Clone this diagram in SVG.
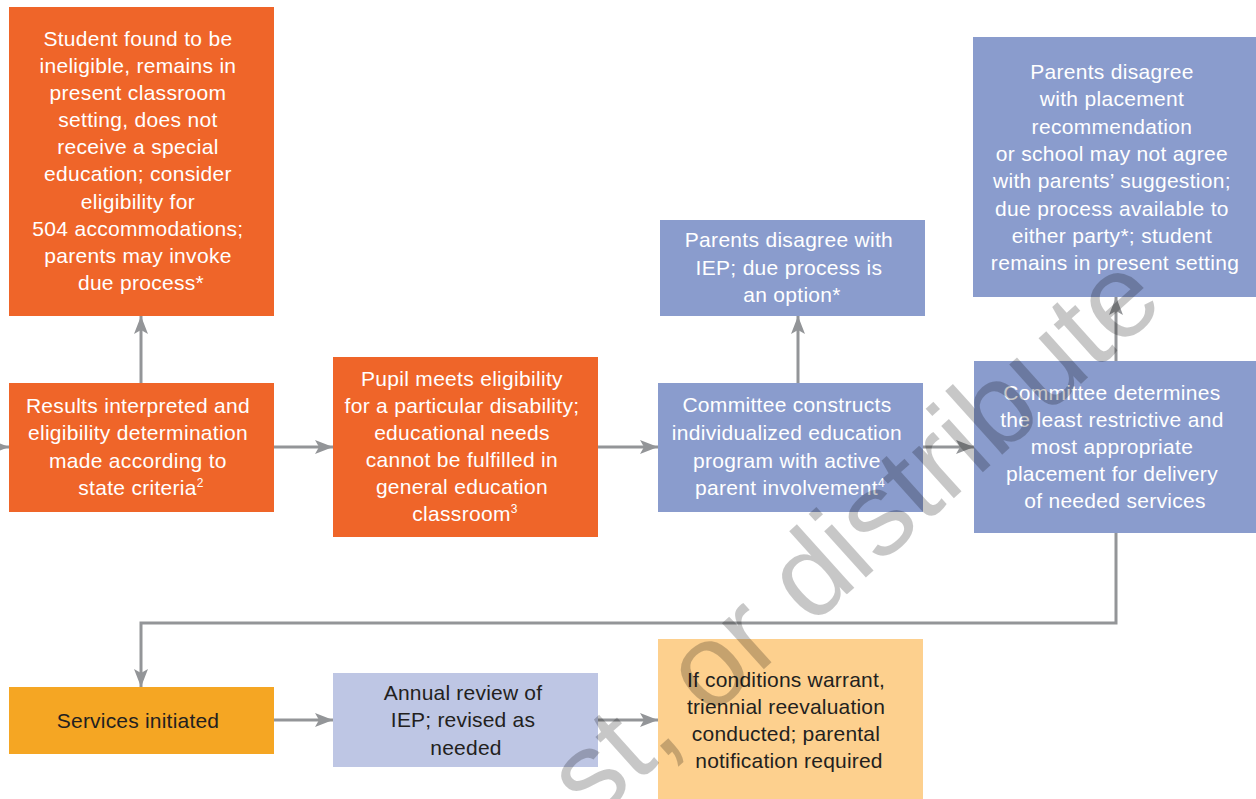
<svg xmlns="http://www.w3.org/2000/svg" width="1256" height="799" viewBox="0 0 1256 799">
<style>
.or{fill:#EF6529}
.bl{fill:#8A9CCD}
.lv{fill:#BEC6E4}
.yl{fill:#F5A623}
.pc{fill:#FDD08E}
.tw{font-family:"Liberation Sans",Arial,Helvetica,sans-serif;font-size:21px;fill:#FFFFFF;text-anchor:middle;letter-spacing:0.3px}
.td{font-family:"Liberation Sans",Arial,Helvetica,sans-serif;font-size:21px;fill:#231F20;text-anchor:middle;letter-spacing:0.2px}
.sup{font-size:12px}
.cn{fill:none;stroke:#939598;stroke-width:3;marker-end:url(#ah)}
.wm{font-family:"Liberation Sans",Arial,Helvetica,sans-serif;font-size:118px;fill:#000;fill-opacity:0.22}
</style>
<defs>
<marker id="ah" markerUnits="userSpaceOnUse" markerWidth="18" markerHeight="14" refX="18" refY="7" orient="auto">
<path d="M0,0 L18,7 L0,14 L4,7 Z" fill="#939598"/>
</marker>
</defs>
<rect width="1256" height="799" fill="#FFFFFF"/>

<g id="connectors">
<path class="cn" d="M-6,447 H9"/>
<path class="cn" d="M273,447 H333"/>
<path class="cn" d="M141,383 V316"/>
<path class="cn" d="M597,447 H658"/>
<path class="cn" d="M798,383 V316"/>
<path class="cn" d="M922,447 H974"/>
<path class="cn" d="M1116,361 V297"/>
<path class="cn" d="M1116,533 V623 H141 V687"/>
<path class="cn" d="M273,720 H333"/>
<path class="cn" d="M597,720 H658"/>
</g>

<g id="ineligible">
<rect class="or" x="9" y="7" width="265" height="309"/>
<text class="tw">
<tspan x="141" y="46">Student found to be</tspan>
<tspan x="141" y="73">ineligible, remains in</tspan>
<tspan x="141" y="100">present classroom</tspan>
<tspan x="141" y="127">setting, does not</tspan>
<tspan x="141" y="154">receive a special</tspan>
<tspan x="141" y="181">education; consider</tspan>
<tspan x="141" y="209">eligibility for</tspan>
<tspan x="141" y="236">504 accommodations;</tspan>
<tspan x="141" y="263">parents may invoke</tspan>
<tspan x="141" y="290">due process*</tspan>
</text>
</g>

<g id="results">
<rect class="or" x="9" y="383" width="265" height="129"/>
<text class="tw">
<tspan x="141" y="413">Results interpreted and</tspan>
<tspan x="141" y="440">eligibility determination</tspan>
<tspan x="141" y="468">made according to</tspan>
<tspan x="141" y="495">state criteria<tspan class="sup" dy="-8">2</tspan></tspan>
</text>
</g>

<g id="pupil">
<rect class="or" x="333" y="357" width="265" height="180"/>
<text class="tw">
<tspan x="465" y="386">Pupil meets eligibility</tspan>
<tspan x="465" y="413">for a particular disability;</tspan>
<tspan x="465" y="440">educational needs</tspan>
<tspan x="465" y="467">cannot be fulfilled in</tspan>
<tspan x="465" y="494">general education</tspan>
<tspan x="465" y="521">classroom<tspan class="sup" dy="-8">3</tspan></tspan>
</text>
</g>

<g id="iep-disagree">
<rect class="bl" x="660" y="220" width="265" height="96"/>
<text class="tw">
<tspan x="792" y="247">Parents disagree with</tspan>
<tspan x="792" y="275">IEP; due process is</tspan>
<tspan x="792" y="302">an option*</tspan>
</text>
</g>

<g id="committee-iep">
<rect class="bl" x="658" y="383" width="265" height="129"/>
<text class="tw">
<tspan x="790" y="412">Committee constructs</tspan>
<tspan x="790" y="440">individualized education</tspan>
<tspan x="790" y="468">program with active</tspan>
<tspan x="790" y="495">parent involvement<tspan class="sup" dy="-8">4</tspan></tspan>
</text>
</g>

<g id="placement-disagree">
<rect class="bl" x="973" y="37" width="283" height="260"/>
<text class="tw">
<tspan x="1115" y="79">Parents disagree</tspan>
<tspan x="1115" y="106">with placement</tspan>
<tspan x="1115" y="134">recommendation</tspan>
<tspan x="1115" y="161">or school may not agree</tspan>
<tspan x="1115" y="188">with parents’ suggestion;</tspan>
<tspan x="1115" y="216">due process available to</tspan>
<tspan x="1115" y="243">either party*; student</tspan>
<tspan x="1115" y="270">remains in present setting</tspan>
</text>
</g>

<g id="committee-placement">
<rect class="bl" x="974" y="361" width="282" height="172"/>
<text class="tw">
<tspan x="1115" y="400">Committee determines</tspan>
<tspan x="1115" y="427">the least restrictive and</tspan>
<tspan x="1115" y="454">most appropriate</tspan>
<tspan x="1115" y="481">placement for delivery</tspan>
<tspan x="1115" y="508">of needed services</tspan>
</text>
</g>

<g id="services">
<rect class="yl" x="9" y="687" width="265" height="67"/>
<text class="td" x="138" y="728">Services initiated</text>
</g>

<g id="annual">
<rect class="lv" x="333" y="673" width="265" height="94"/>
<text class="td">
<tspan x="466" y="700">Annual review of</tspan>
<tspan x="466" y="727">IEP; revised as</tspan>
<tspan x="466" y="755">needed</tspan>
</text>
</g>

<g id="triennial">
<rect class="pc" x="658" y="639" width="265" height="160"/>
<text class="td">
<tspan x="789" y="687">If conditions warrant,</tspan>
<tspan x="789" y="714">triennial reevaluation</tspan>
<tspan x="789" y="741">conducted; parental</tspan>
<tspan x="789" y="768">notification required</tspan>
</text>
</g>

<text class="wm" transform="translate(592,824) rotate(-42)">st, or distribute</text>
</svg>
